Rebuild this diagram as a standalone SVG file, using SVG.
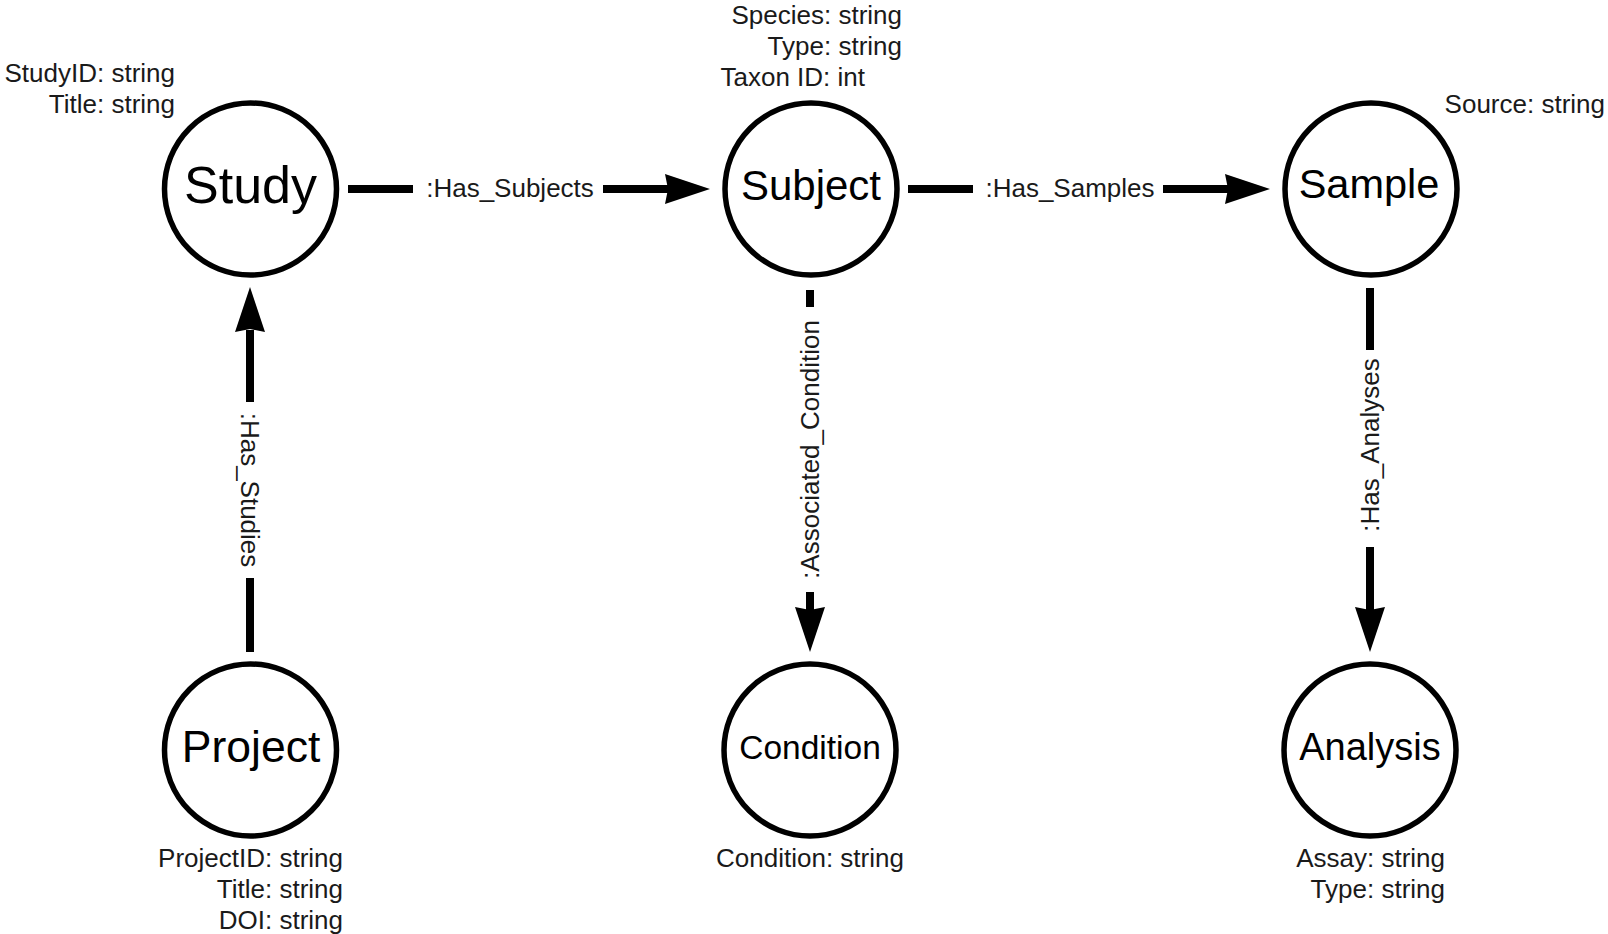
<svg xmlns="http://www.w3.org/2000/svg" xmlns:xlink="http://www.w3.org/1999/xlink" width="1608" height="934" viewBox="0 0 1608 934">
  <style>
    .node { fill: #ffffff; stroke: #000000; stroke-width: 5.5; }
    .name { font-family: "Liberation Sans", Arial, sans-serif; fill: #000000; text-anchor: middle; }
    .attr { font-family: "Liberation Sans", Arial, sans-serif; font-size: 26px; fill: #1a1a1a; }
    .end { text-anchor: end; }
    .mid { text-anchor: middle; }
    .edge { stroke: #000000; stroke-width: 8; fill: none; }
    .elabel { font-family: "Liberation Sans", Arial, sans-serif; font-size: 26px; fill: #1a1a1a; text-anchor: middle; }
    .head { fill: #000000; }
  </style>
  <defs>
    <path id="arrow" d="M0,0 L-45,-15 L-42,0 L-45,15 Z"/>
  </defs>
  <rect width="1608" height="934" fill="#ffffff"/>

  <g id="connectors">
    <g id="edge-has-subjects">
      <line class="edge" x1="348" y1="189" x2="413" y2="189"/>
      <text class="elabel" x="510" y="197">:Has_Subjects</text>
      <line class="edge" x1="603" y1="189" x2="668" y2="189"/>
      <use xlink:href="#arrow" class="head" transform="translate(710,189)"/>
    </g>
    <g id="edge-has-samples">
      <line class="edge" x1="908" y1="189" x2="973" y2="189"/>
      <text class="elabel" x="1070" y="197">:Has_Samples</text>
      <line class="edge" x1="1163" y1="189" x2="1228" y2="189"/>
      <use xlink:href="#arrow" class="head" transform="translate(1270,189)"/>
    </g>
    <g id="edge-has-studies">
      <line class="edge" x1="250" y1="652" x2="250" y2="578"/>
      <text class="elabel" x="0" y="9" transform="translate(250,490) rotate(90)">:Has_Studies</text>
      <line class="edge" x1="250" y1="402" x2="250" y2="330"/>
      <use xlink:href="#arrow" class="head" transform="translate(250,287) rotate(-90)"/>
    </g>
    <g id="edge-associated-condition">
      <line class="edge" x1="810" y1="290" x2="810" y2="307"/>
      <text class="elabel" x="0" y="9" transform="translate(810,449.5) rotate(-90)">:Associated_Condition</text>
      <line class="edge" x1="810" y1="592" x2="810" y2="610"/>
      <use xlink:href="#arrow" class="head" transform="translate(810,652) rotate(90)"/>
    </g>
    <g id="edge-has-analyses">
      <line class="edge" x1="1370" y1="288" x2="1370" y2="350"/>
      <text class="elabel" x="0" y="9" transform="translate(1370,445) rotate(-90)">:Has_Analyses</text>
      <line class="edge" x1="1370" y1="547" x2="1370" y2="610"/>
      <use xlink:href="#arrow" class="head" transform="translate(1370,652) rotate(90)"/>
    </g>
  </g>

  <g id="study">
    <circle class="node" cx="250.5" cy="189" r="86"/>
    <text class="name" x="250.5" y="203" font-size="52">Study</text>
    <text class="attr end" x="175" y="82">StudyID: string</text>
    <text class="attr end" x="175" y="113">Title: string</text>
  </g>

  <g id="subject">
    <circle class="node" cx="811" cy="189" r="86"/>
    <text class="name" x="811" y="200" font-size="42">Subject</text>
    <text class="attr end" x="902" y="24">Species: string</text>
    <text class="attr end" x="902" y="55">Type: string</text>
    <text class="attr end" x="865" y="86">Taxon ID: int</text>
  </g>

  <g id="sample">
    <circle class="node" cx="1371" cy="189" r="86"/>
    <text class="name" x="1369" y="198" font-size="41.5">Sample</text>
    <text class="attr end" x="1605" y="113">Source: string</text>
  </g>

  <g id="project">
    <circle class="node" cx="250.5" cy="750" r="86"/>
    <text class="name" x="251" y="762" font-size="44.5">Project</text>
    <text class="attr end" x="343" y="867">ProjectID: string</text>
    <text class="attr end" x="343" y="898">Title: string</text>
    <text class="attr end" x="343" y="929">DOI: string</text>
  </g>

  <g id="condition">
    <circle class="node" cx="810" cy="750" r="86"/>
    <text class="name" x="810" y="759" font-size="33.5">Condition</text>
    <text class="attr mid" x="810" y="867">Condition: string</text>
  </g>

  <g id="analysis">
    <circle class="node" cx="1370" cy="750" r="86"/>
    <text class="name" x="1370" y="760" font-size="38">Analysis</text>
    <text class="attr end" x="1445" y="867">Assay: string</text>
    <text class="attr end" x="1445" y="898">Type: string</text>
  </g>
</svg>
